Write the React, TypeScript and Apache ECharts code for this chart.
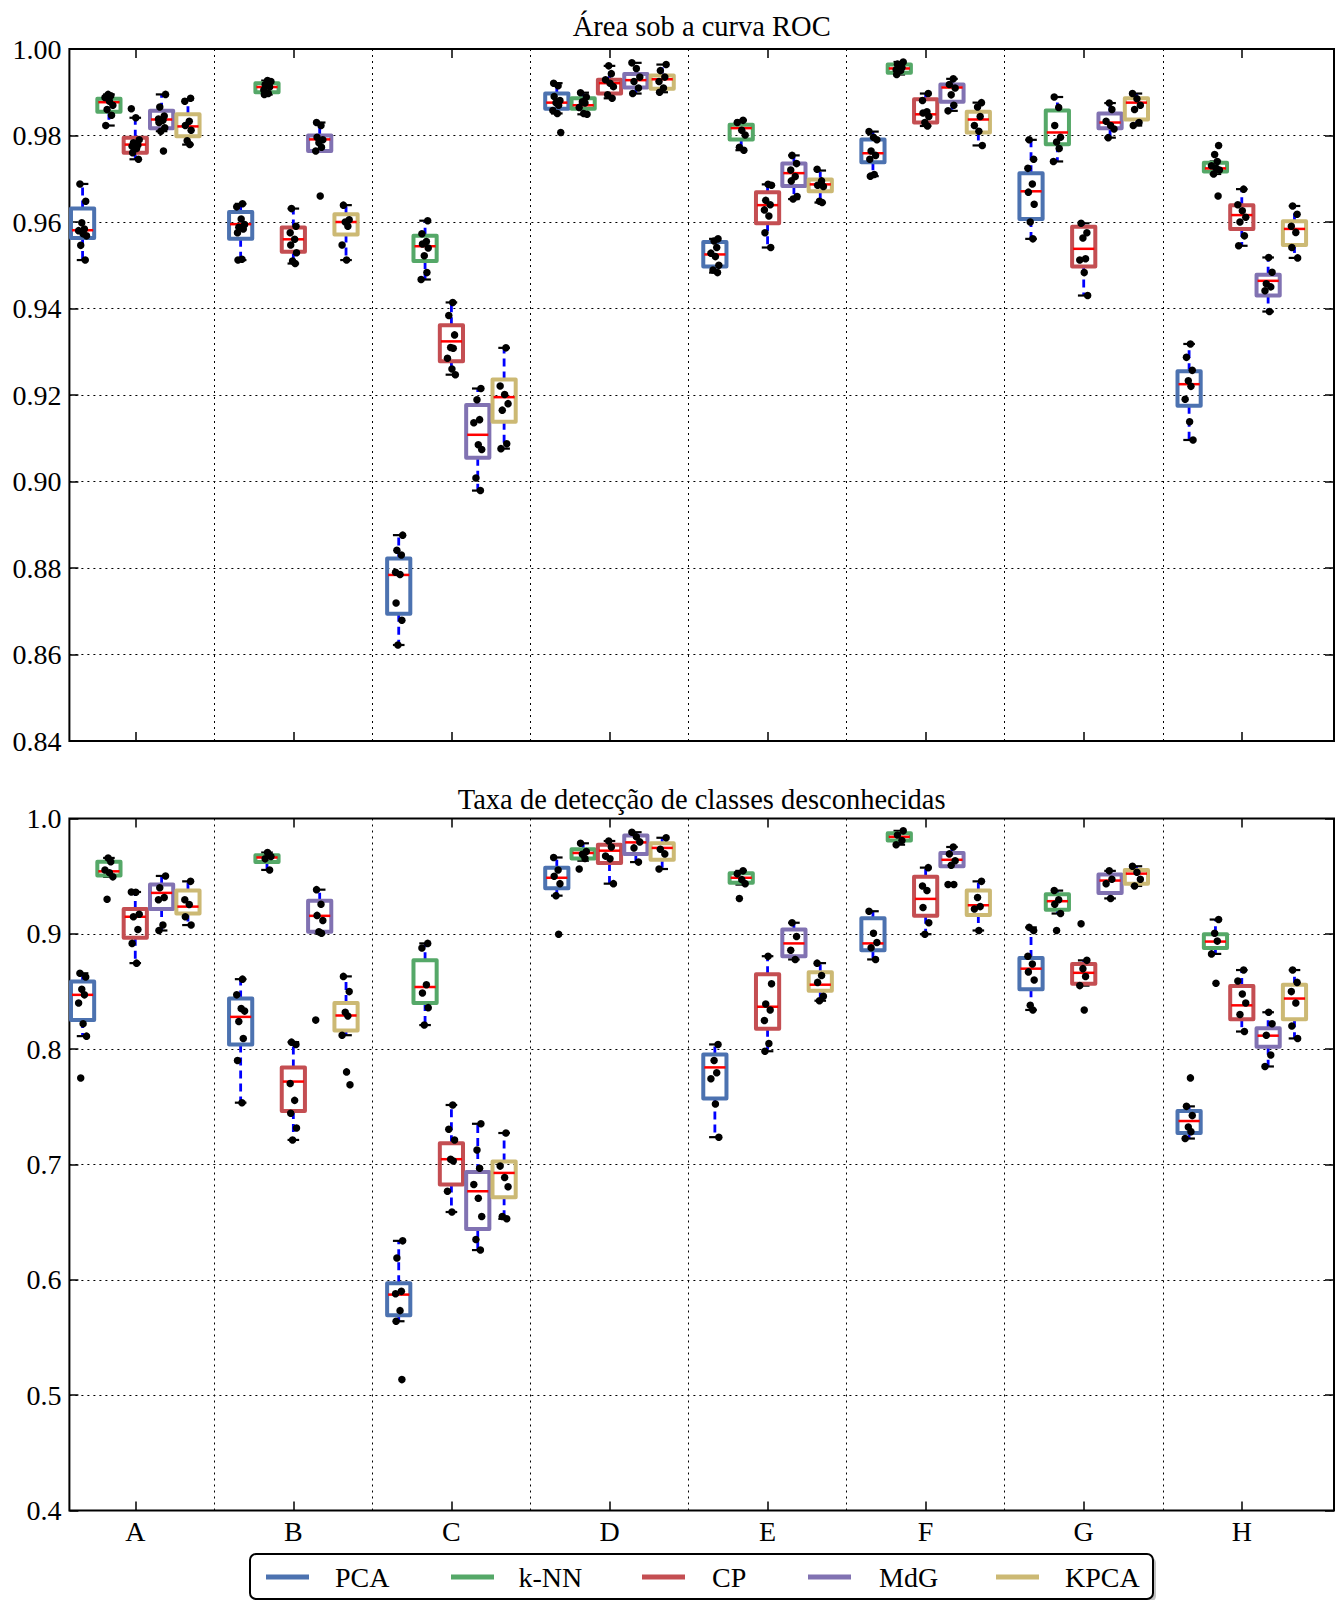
import React, { useEffect, useRef } from "react";
import * as echarts from "echarts";

const GROUPS = ["A", "B", "C", "D", "E", "F", "G", "H"];
const METHODS = ["PCA", "k-NN", "CP", "MdG", "KPCA"];
const GROUP_TICKS = [3, 9, 15, 21, 27, 33, 39, 45];
const SEPARATORS = [6, 12, 18, 24, 30, 36, 42];

// ---- Área sob a curva ROC : box stats [low, q1, median, q3, high] per group
const AUC_PCA_BOX = [
  [0.9512, 0.9563, 0.9581, 0.9631, 0.9688], [0.9512, 0.9561, 0.9595, 0.9623, 0.9642],
  [0.8622, 0.8694, 0.8784, 0.8822, 0.8876], [0.9851, 0.9862, 0.9876, 0.9897, 0.9921],
  [0.9483, 0.9497, 0.9525, 0.9554, 0.9561], [0.9706, 0.9738, 0.9759, 0.9791, 0.9809],
  [0.9561, 0.9607, 0.9671, 0.9713, 0.979], [0.9096, 0.9175, 0.9225, 0.9255, 0.9318],
];
const AUC_KNN_BOX = [
  [0.9823, 0.9855, 0.9877, 0.9885, 0.9895], [0.9895, 0.99, 0.9912, 0.9921, 0.9927],
  [0.9467, 0.951, 0.9544, 0.9568, 0.9603], [0.9849, 0.9862, 0.987, 0.9886, 0.9899],
  [0.9766, 0.9791, 0.9817, 0.9825, 0.9835], [0.9941, 0.9945, 0.9955, 0.9964, 0.997],
  [0.974, 0.978, 0.9807, 0.9858, 0.9889], [0.9711, 0.9717, 0.9724, 0.9737, 0.974],
];
const AUC_CP_BOX = [
  [0.9745, 0.976, 0.9779, 0.9795, 0.9841], [0.9504, 0.9531, 0.956, 0.9587, 0.9631],
  [0.9247, 0.9278, 0.9324, 0.9361, 0.9414], [0.9886, 0.9897, 0.9921, 0.9929, 0.9961],
  [0.9541, 0.9597, 0.9639, 0.9669, 0.9687], [0.9822, 0.983, 0.9849, 0.9884, 0.9897],
  [0.943, 0.9497, 0.9538, 0.9589, 0.9597], [0.9545, 0.9584, 0.9616, 0.9639, 0.9676],
];
const AUC_MDG_BOX = [
  [0.981, 0.9817, 0.9837, 0.9857, 0.9895], [0.9764, 0.9764, 0.9791, 0.98, 0.983],
  [0.8979, 0.9055, 0.9108, 0.9177, 0.9215], [0.9897, 0.9911, 0.9928, 0.9942, 0.9968],
  [0.9653, 0.9683, 0.9713, 0.9735, 0.9754], [0.9857, 0.9878, 0.9911, 0.9918, 0.9931],
  [0.9795, 0.9817, 0.983, 0.9851, 0.9875], [0.9393, 0.943, 0.9464, 0.9478, 0.9518],
];
const AUC_KPCA_BOX = [
  [0.9779, 0.9798, 0.9821, 0.9849, 0.9883], [0.9512, 0.9571, 0.96, 0.9618, 0.9639],
  [0.9076, 0.9138, 0.9195, 0.9236, 0.9309], [0.99, 0.9908, 0.993, 0.9939, 0.9964],
  [0.9645, 0.9671, 0.9687, 0.9698, 0.9719], [0.9777, 0.9807, 0.9837, 0.9855, 0.9876],
  [0.9823, 0.9837, 0.9876, 0.9886, 0.9897], [0.9517, 0.9547, 0.9584, 0.9602, 0.9637],
];

// ---- Área sob a curva ROC : individual runs
const AUC_PCA_PTS = [
  [0.9688, 0.9648, 0.9598, 0.9584, 0.958, 0.9573, 0.9568, 0.9546, 0.9512],
  [0.9642, 0.9635, 0.9607, 0.9594, 0.9588, 0.9584, 0.9575, 0.9514, 0.9512],
  [0.8876, 0.8841, 0.883, 0.879, 0.8785, 0.8719, 0.8679, 0.8622],
  [0.9921, 0.9915, 0.989, 0.9881, 0.9876, 0.987, 0.9858, 0.9851, 0.9807],
  [0.9561, 0.9556, 0.9541, 0.9528, 0.952, 0.95, 0.9489, 0.9483],
  [0.9809, 0.9796, 0.979, 0.9764, 0.9754, 0.9745, 0.971, 0.9706],
  [0.979, 0.9745, 0.9724, 0.9688, 0.9669, 0.9641, 0.96, 0.9561],
  [0.9318, 0.9287, 0.9257, 0.9233, 0.922, 0.919, 0.9138, 0.9096],
];
const AUC_KNN_PTS = [
  [0.9895, 0.9892, 0.9888, 0.9879, 0.987, 0.986, 0.9847, 0.9823],
  [0.9927, 0.9925, 0.9918, 0.9912, 0.9905, 0.9897, 0.9895],
  [0.9603, 0.9573, 0.9555, 0.9549, 0.954, 0.9522, 0.9483, 0.9467],
  [0.9899, 0.9889, 0.9878, 0.9875, 0.9865, 0.9851, 0.9849],
  [0.9835, 0.983, 0.9812, 0.9801, 0.9773, 0.9766],
  [0.997, 0.9965, 0.9957, 0.9952, 0.995, 0.9941],
  [0.9889, 0.9865, 0.9823, 0.9796, 0.9785, 0.977, 0.974],
  [0.9777, 0.9756, 0.974, 0.973, 0.9725, 0.972, 0.9711, 0.966],
];
const AUC_CP_PTS = [
  [0.9862, 0.9841, 0.979, 0.9783, 0.9778, 0.9775, 0.977, 0.976, 0.9745],
  [0.9631, 0.959, 0.9575, 0.956, 0.9547, 0.9529, 0.951, 0.9504],
  [0.9414, 0.9384, 0.9339, 0.931, 0.9308, 0.9285, 0.926, 0.9247],
  [0.9961, 0.9943, 0.9929, 0.9921, 0.9913, 0.9894, 0.9886],
  [0.9687, 0.9685, 0.965, 0.964, 0.9628, 0.9614, 0.9575, 0.9541],
  [0.9897, 0.9881, 0.9855, 0.9852, 0.9844, 0.983, 0.9822],
  [0.9597, 0.9575, 0.9563, 0.9515, 0.9512, 0.9483, 0.943],
  [0.9676, 0.964, 0.9626, 0.9611, 0.96, 0.9568, 0.9545],
];
const AUC_MDG_PTS = [
  [0.9895, 0.9866, 0.9845, 0.9838, 0.9835, 0.983, 0.9818, 0.981, 0.9764],
  [0.983, 0.9823, 0.9796, 0.979, 0.9783, 0.9773, 0.9764, 0.966],
  [0.9215, 0.9189, 0.9143, 0.9136, 0.9085, 0.9074, 0.9008, 0.8979],
  [0.9968, 0.9955, 0.9935, 0.9925, 0.991, 0.9897],
  [0.9754, 0.9735, 0.972, 0.9705, 0.9695, 0.9659, 0.9653],
  [0.9931, 0.9918, 0.991, 0.9894, 0.987, 0.9857],
  [0.9875, 0.986, 0.9833, 0.9823, 0.9815, 0.9795],
  [0.9518, 0.9484, 0.9457, 0.945, 0.9441, 0.9393],
];
const AUC_KPCA_PTS = [
  [0.9886, 0.9879, 0.9833, 0.9823, 0.9812, 0.9788, 0.9779],
  [0.9639, 0.9605, 0.96, 0.959, 0.9547, 0.9512],
  [0.9309, 0.9221, 0.9201, 0.918, 0.9165, 0.9087, 0.9076],
  [0.9964, 0.995, 0.9935, 0.9925, 0.991, 0.99],
  [0.9722, 0.9695, 0.9685, 0.9682, 0.9648, 0.9645],
  [0.9876, 0.9866, 0.9844, 0.9823, 0.981, 0.9777],
  [0.9897, 0.9885, 0.987, 0.986, 0.983, 0.9823],
  [0.9637, 0.9618, 0.959, 0.9576, 0.9541, 0.9517],
];

// ---- Taxa de detecção : box stats [low, q1, median, q3, high]
const DET_PCA_BOX = [
  [0.8113, 0.8252, 0.8471, 0.8587, 0.8658], [0.7536, 0.8041, 0.828, 0.8439, 0.8607],
  [0.5641, 0.5693, 0.5872, 0.5971, 0.6338], [0.9331, 0.9395, 0.9486, 0.9574, 0.9662],
  [0.7237, 0.7572, 0.7842, 0.7954, 0.8041], [0.8778, 0.8857, 0.8917, 0.9136, 0.9196],
  [0.834, 0.8519, 0.8698, 0.879, 0.9056], [0.7225, 0.7273, 0.7377, 0.7464, 0.7504],
];
const DET_KNN_BOX = [
  [0.9494, 0.9506, 0.9542, 0.9626, 0.9658], [0.9554, 0.9622, 0.9662, 0.9682, 0.9705],
  [0.8209, 0.84, 0.8539, 0.877, 0.8917], [0.9634, 0.9654, 0.9701, 0.9733, 0.9785],
  [0.9427, 0.9443, 0.9486, 0.9526, 0.9546], [0.9773, 0.9809, 0.9841, 0.9873, 0.9893],
  [0.9176, 0.9208, 0.9283, 0.9343, 0.9375], [0.8826, 0.8877, 0.8933, 0.8997, 0.9124],
];
const DET_CP_BOX = [
  [0.8746, 0.8965, 0.9148, 0.9216, 0.9363], [0.7213, 0.7464, 0.7719, 0.7842, 0.8061],
  [0.6588, 0.6827, 0.7046, 0.7185, 0.7516], [0.9435, 0.9614, 0.9721, 0.9773, 0.9805],
  [0.7982, 0.8177, 0.8368, 0.865, 0.8806], [0.8997, 0.9156, 0.9303, 0.9494, 0.9574],
  [0.8551, 0.8567, 0.8662, 0.8738, 0.877], [0.8153, 0.826, 0.838, 0.8547, 0.8686],
];
const DET_MDG_BOX = [
  [0.9029, 0.9216, 0.9355, 0.9427, 0.9502], [0.9005, 0.9017, 0.9156, 0.9287, 0.9383],
  [0.6258, 0.6441, 0.6768, 0.6935, 0.7353], [0.9622, 0.9693, 0.9793, 0.9853, 0.9881],
  [0.8778, 0.8806, 0.8917, 0.9037, 0.9096], [0.9586, 0.9586, 0.9642, 0.9701, 0.9753],
  [0.9307, 0.9355, 0.9462, 0.9514, 0.9546], [0.785, 0.8021, 0.8117, 0.8181, 0.832],
];
const DET_KPCA_BOX = [
  [0.9076, 0.9176, 0.9236, 0.9375, 0.9455], [0.8121, 0.8161, 0.8292, 0.84, 0.8631],
  [0.6529, 0.6716, 0.6927, 0.7026, 0.7273], [0.9562, 0.9642, 0.9745, 0.9785, 0.9833],
  [0.842, 0.8507, 0.8559, 0.8666, 0.8746], [0.9029, 0.9164, 0.9248, 0.9375, 0.9455],
  [0.9415, 0.9435, 0.9522, 0.9554, 0.9586], [0.8093, 0.826, 0.8439, 0.8559, 0.8686],
];

// ---- Taxa de detecção : individual runs
const DET_PCA_PTS = [
  [0.8658, 0.8625, 0.8519, 0.8471, 0.84, 0.8221, 0.8113, 0.775],
  [0.8607, 0.8471, 0.8352, 0.833, 0.824, 0.8093, 0.7902, 0.7536],
  [0.6338, 0.619, 0.59, 0.588, 0.5733, 0.5641, 0.5135],
  [0.9662, 0.9554, 0.95, 0.9435, 0.9331, 0.8997],
  [0.8041, 0.7902, 0.7795, 0.7743, 0.7524, 0.7237],
  [0.9196, 0.9005, 0.8925, 0.888, 0.8778],
  [0.9056, 0.9029, 0.8806, 0.8738, 0.867, 0.8599, 0.838, 0.834],
  [0.7751, 0.7504, 0.7424, 0.7325, 0.7285, 0.7225],
];
const DET_KNN_PTS = [
  [0.9658, 0.9626, 0.9554, 0.953, 0.9494, 0.93],
  [0.9705, 0.967, 0.965, 0.9554],
  [0.8917, 0.8877, 0.8559, 0.8487, 0.836, 0.8209],
  [0.9785, 0.9713, 0.969, 0.9654, 0.9562],
  [0.9546, 0.952, 0.947, 0.9435, 0.9307],
  [0.9893, 0.9857, 0.9809, 0.9773],
  [0.9375, 0.9295, 0.9256, 0.9176, 0.9029],
  [0.9124, 0.9005, 0.8937, 0.8826, 0.8571],
];
const DET_CP_PTS = [
  [0.9363, 0.936, 0.917, 0.9148, 0.9037, 0.8917, 0.8746],
  [0.8061, 0.8041, 0.7703, 0.7556, 0.7444, 0.7317, 0.7213],
  [0.7516, 0.7305, 0.7213, 0.7046, 0.703, 0.6768, 0.6588],
  [0.9805, 0.9753, 0.9674, 0.965, 0.9435],
  [0.8806, 0.8567, 0.8392, 0.834, 0.8248, 0.8049, 0.7982],
  [0.9574, 0.9415, 0.9375, 0.9228, 0.9096, 0.8997],
  [0.9088, 0.877, 0.8698, 0.863, 0.8551, 0.834],
  [0.8686, 0.8591, 0.8479, 0.84, 0.83, 0.8153],
];
const DET_MDG_PTS = [
  [0.9502, 0.94, 0.9315, 0.9295, 0.9076, 0.9029],
  [0.9383, 0.9256, 0.916, 0.9116, 0.9017, 0.9005, 0.8252],
  [0.7353, 0.7126, 0.6967, 0.6827, 0.6708, 0.6549, 0.635, 0.6258],
  [0.9881, 0.9841, 0.9797, 0.9745, 0.9622],
  [0.9096, 0.8977, 0.8857, 0.8778],
  [0.9753, 0.9693, 0.9634, 0.9594, 0.9427, 0.9427],
  [0.9546, 0.9474, 0.9435, 0.9307],
  [0.832, 0.822, 0.8121, 0.795, 0.785],
];
const DET_KPCA_PTS = [
  [0.9455, 0.9295, 0.9255, 0.9148, 0.9076],
  [0.8631, 0.8499, 0.832, 0.8288, 0.8121, 0.7803, 0.7691],
  [0.7273, 0.6986, 0.6887, 0.6807, 0.6549, 0.6529],
  [0.9833, 0.9733, 0.9693, 0.9562],
  [0.8746, 0.8639, 0.8579, 0.8459, 0.842],
  [0.9455, 0.9315, 0.9236, 0.9216, 0.9029],
  [0.9586, 0.9534, 0.9474, 0.9415],
  [0.8686, 0.8579, 0.8499, 0.84, 0.8201, 0.8093],
];

// ---- styles / layout (not data)
const COLORS = ["#4C72B0", "#55A868", "#C44E52", "#8172B2", "#CCB974"];
const JITTER = [-0.1, 0.12, -0.03, 0.07, -0.15, 0.02, 0.15, -0.07, 0.1, -0.12, 0.05];
const BOX_W = 0.88;
const FONT = "'Liberation Serif', 'Times New Roman', serif";
const PLOT_LEFT = 69.4;
const PLOT_WIDTH = 1264.6;
const PLOT_HEIGHT = 692;
const PANEL_TOPS = [49, 818.5];
const TITLE_Y = [26.5, 799];
const LEGEND_LINE_X = [266, 451, 642, 808, 996];
const LEGEND_TEXT_X = [335, 518.5, 712, 879, 1065];

const PANELS = [
  {
    title: "Área sob a curva ROC",
    boxes: [AUC_PCA_BOX, AUC_KNN_BOX, AUC_CP_BOX, AUC_MDG_BOX, AUC_KPCA_BOX],
    points: [AUC_PCA_PTS, AUC_KNN_PTS, AUC_CP_PTS, AUC_MDG_PTS, AUC_KPCA_PTS],
    min: 0.84, max: 1.0, interval: 0.02, digits: 2, labels: false,
  },
  {
    title: "Taxa de detecção de classes desconhecidas",
    boxes: [DET_PCA_BOX, DET_KNN_BOX, DET_CP_BOX, DET_MDG_BOX, DET_KPCA_BOX],
    points: [DET_PCA_PTS, DET_KNN_PTS, DET_CP_PTS, DET_MDG_PTS, DET_KPCA_PTS],
    min: 0.4, max: 1.0, interval: 0.1, digits: 1, labels: true,
  },
];

function makeRender(color: string) {
  return (params: any, api: any) => {
    const x = api.value(0);
    const lo = api.coord([x, api.value(1)]);
    const q1 = api.coord([x, api.value(2)]);
    const md = api.coord([x, api.value(3)]);
    const q3 = api.coord([x, api.value(4)]);
    const hi = api.coord([x, api.value(5)]);
    const w = api.size([BOX_W, 0])[0];
    const cx = lo[0];
    const cw = w * 0.5;
    const whisk = { stroke: "#0000ff", lineWidth: 2.8, lineDash: [8, 5] };
    const cap = { stroke: "#000", lineWidth: 2.2 };
    return {
      type: "group",
      children: [
        { type: "line", shape: { x1: cx, y1: q3[1], x2: cx, y2: hi[1] }, style: whisk },
        { type: "line", shape: { x1: cx, y1: q1[1], x2: cx, y2: lo[1] }, style: whisk },
        { type: "line", shape: { x1: cx - cw / 2, y1: hi[1], x2: cx + cw / 2, y2: hi[1] }, style: cap },
        { type: "line", shape: { x1: cx - cw / 2, y1: lo[1], x2: cx + cw / 2, y2: lo[1] }, style: cap },
        {
          type: "rect",
          shape: { x: cx - w / 2, y: q3[1], width: w, height: q1[1] - q3[1] },
          style: { fill: "none", stroke: color, lineWidth: 4, lineJoin: "round" },
        },
        {
          type: "line",
          shape: { x1: cx - w / 2 + 1, y1: md[1], x2: cx + w / 2 - 1, y2: md[1] },
          style: { stroke: "#ff0000", lineWidth: 2.5 },
        },
      ],
    };
  };
}

export default function App() {
  const ref = useRef<HTMLDivElement>(null);
  useEffect(() => {
    if (!ref.current) return;
    const chart = echarts.init(ref.current, null, { renderer: "svg" });

    const grids: any[] = [];
    const xAxes: any[] = [];
    const yAxes: any[] = [];
    const series: any[] = [];
    const tickStyle = { color: "#000", width: 1.5 };

    PANELS.forEach((p, pi) => {
      grids.push({
        left: PLOT_LEFT, top: PANEL_TOPS[pi], width: PLOT_WIDTH, height: PLOT_HEIGHT,
        show: true, borderColor: "#000", borderWidth: 2, backgroundColor: "transparent",
      });
      ["bottom", "top"].forEach((pos, k) => {
        xAxes.push({
          gridIndex: pi, type: "value", min: 0.5, max: 48.5, position: pos,
          axisLine: { show: false },
          axisTick: { show: true, inside: true, length: 9, customValues: GROUP_TICKS, lineStyle: tickStyle },
          axisLabel: {
            show: p.labels && k === 0, customValues: GROUP_TICKS, margin: 7,
            formatter: (v: number) => GROUPS[Math.round((v - 3) / 6)] || "",
            fontFamily: FONT, fontSize: 28, color: "#000",
          },
          splitLine: { show: false },
        });
      });
      ["left", "right"].forEach((pos, k) => {
        yAxes.push({
          gridIndex: pi, type: "value", min: p.min, max: p.max, interval: p.interval, position: pos,
          axisLine: { show: false },
          axisTick: { show: true, inside: true, length: 9, lineStyle: tickStyle },
          axisLabel: {
            show: k === 0, margin: 8, fontFamily: FONT, fontSize: 28, color: "#000",
            formatter: (v: number) => v.toFixed(p.digits),
          },
          splitLine: k === 0 ? { show: true, lineStyle: { color: "#000", type: [2, 4], width: 1 } } : { show: false },
        });
      });

      METHODS.forEach((m, mi) => {
        series.push({
          type: "custom", name: m, coordinateSystem: "cartesian2d",
          xAxisIndex: pi * 2, yAxisIndex: pi * 2, z: 2, clip: false,
          encode: { x: 0, y: [1, 2, 3, 4, 5] },
          data: GROUPS.map((g, gi) => [6 * gi + mi + 1, ...p.boxes[mi][gi]]),
          renderItem: makeRender(COLORS[mi]),
        });
      });

      const pts: number[][] = [];
      METHODS.forEach((m, mi) =>
        GROUPS.forEach((g, gi) =>
          p.points[mi][gi].forEach((v, k) =>
            pts.push([6 * gi + mi + 1 + JITTER[(k + gi * 3 + mi * 2) % JITTER.length], v])
          )
        )
      );
      series.push({
        type: "scatter", xAxisIndex: pi * 2, yAxisIndex: pi * 2, z: 3,
        symbol: "circle", symbolSize: 7.5, itemStyle: { color: "#000", opacity: 1 }, silent: true,
        data: pts,
        markLine: {
          silent: true, symbol: ["none", "none"], label: { show: false },
          lineStyle: { color: "#000", type: [2, 4], width: 1 },
          data: SEPARATORS.map((v) => ({ xAxis: v })),
        },
      });
    });

    const graphics: any[] = [];
    PANELS.forEach((p, pi) => {
      graphics.push({
        type: "text", x: PLOT_LEFT + PLOT_WIDTH / 2, y: TITLE_Y[pi],
        style: { text: p.title, fill: "#000", font: `28.5px ${FONT}`, textAlign: "center", textVerticalAlign: "middle" },
      });
    });
    graphics.push({
      type: "rect", shape: { x: 253, y: 1557, width: 903, height: 45, r: 6 },
      style: { fill: "#9a9a9a", opacity: 0.6 }, z: 10,
    });
    graphics.push({
      type: "rect", shape: { x: 250, y: 1554, width: 903, height: 45, r: 6 },
      style: { fill: "#fff", stroke: "#000", lineWidth: 2 }, z: 11,
    });
    METHODS.forEach((m, mi) => {
      graphics.push({
        type: "line", shape: { x1: LEGEND_LINE_X[mi], y1: 1577, x2: LEGEND_LINE_X[mi] + 43, y2: 1577 },
        style: { stroke: COLORS[mi], lineWidth: 5 }, z: 12,
      });
      graphics.push({
        type: "text", x: LEGEND_TEXT_X[mi], y: 1577, z: 12,
        style: { text: m, fill: "#000", font: `28px ${FONT}`, textAlign: "left", textVerticalAlign: "middle" },
      });
    });

    chart.setOption({
      animation: false,
      backgroundColor: "#fff",
      grid: grids,
      xAxis: xAxes,
      yAxis: yAxes,
      series,
      graphic: graphics,
    });
    return () => chart.dispose();
  }, []);
  return (
    <div
      ref={ref}
      style={{ position: "absolute", left: 0, top: 0, width: 1339, height: 1600 }}
    />
  );
}
